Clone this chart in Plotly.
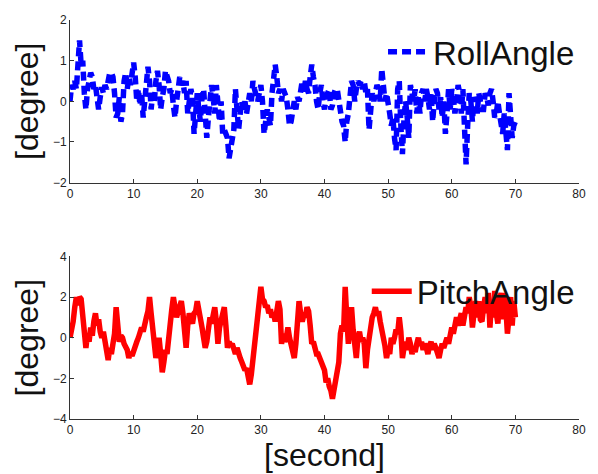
import numpy as np
import plotly.graph_objects as go
from plotly.subplots import make_subplots

# sampling step (seconds) for the hand-read series
dt = 0.25

roll_angle = [
    0.0, 0.4, 0.3, 0.5,
    0.3, 1.2, 1.5, 0.9,
    1.0, 0.2, -0.2, 0.3,
    0.5, 0.7, 0.6, 0.3,
    0.4, -0.1, -0.2, 0.1,
    0.35, 0.2, 0.4, 0.3,
    0.5, 0.7, 0.7, 0.6,
    0.2, -0.4, -0.3, 0.1,
    -0.5, -0.3, 0.5, 0.7,
    0.3, 0.6, 0.4, 0.7,
    0.95, 0.6, 0.0, 0.3,
    -0.1, 0.2, -0.4, 0.0,
    0.3, 0.85, 0.5, -0.2,
    0.2, 0.0, 0.5, 0.75,
    0.4, -0.2, 0.1, 0.3,
    0.75, 0.6, 0.5, 0.2,
    0.3, -0.1, -0.4, 0.0,
    0.3, 0.6, 0.4, 0.5,
    0.2, 0.5, -0.3, 0.0,
    0.3, 0.1, -0.8, -0.3,
    0.2, -0.2, -0.5, 0.1,
    0.3, -0.3, -0.9, -0.4,
    0.0, 0.4, 0.1, -0.3,
    0.4, -0.2, -0.5, 0.0,
    -0.8, -0.7, -0.8, -0.9,
    -1.4, -1.1, -0.8, -0.7,
    0.3, -0.2, -0.7, -0.3,
    0.0, -0.2, 0.0, -0.3,
    -0.1, 0.2, 0.0, 0.5,
    0.3, 0.1, 0.0, 0.2,
    0.4, 0.0, -0.8, -0.5,
    -0.2, -0.4, -0.6, 0.2,
    0.5, 0.9, 0.6, 0.2,
    0.3, 0.0, 0.3, 0.2,
    0.1, -0.2, -0.6, -0.5,
    -0.3, 0.0, -0.2, 0.1,
    0.0, 0.3, 0.5, 0.2,
    0.5, 0.3, 0.2, 0.6,
    0.9, 0.6, 0.4, 0.0,
    -0.2, 0.2, 0.4, 0.0,
    -0.2, 0.1, 0.2, 0.3,
    -0.2, -0.1, 0.2, 0.3,
    0.3, 0.0, -0.3, -0.5,
    -0.6, -1.0, -0.5, -0.3,
    0.1, 0.5, 0.4, 0.0,
    0.3, 0.5, 0.4, 0.5,
    0.3, 0.5, 0.2, 0.3,
    -0.7, -0.2, 0.2, 0.0,
    0.2, 0.4, 0.3, 0.0,
    0.8, 0.5, 0.0, 0.2,
    0.0, -0.3, -0.6, -0.4,
    -0.9, -1.2, 0.3, 0.5,
    -0.6, -1.3, -0.4, 0.0,
    -0.4, -0.9, 0.4, 0.2,
    0.0, 0.3, -0.3, 0.1,
    -0.3, 0.2, 0.3, 0.0,
    0.3, 0.1, -0.2, 0.2,
    -0.5, 0.0, 0.3, 0.2,
    -0.2, 0.1, -0.4, 0.0,
    -0.8, -0.3, 0.3, -0.2,
    0.3, 0.1, -0.3, 0.0,
    0.4, 0.2, -0.3, 0.3,
    -0.5, -1.55, -0.6, 0.2,
    0.0, -0.5, 0.1, 0.0,
    -0.3, 0.2, 0.0, -0.2,
    -0.2, 0.2, 0.1, -0.1,
    0.2, 0.3, 0.0, -0.4,
    -0.3, 0.0, -0.3, -0.6,
    -0.8, -0.3, -0.9, -1.2,
    0.2, -0.3, -0.9, -0.6,
    -0.5,
]

pitch_angle = [
    0.0, 0.3, 0.8, 1.5,
    2.0, 1.6, 2.0, 1.9,
    1.2, 0.5, -0.5, 0.2,
    -0.2, 0.5, 0.1, 0.8,
    1.2, 0.6, 0.9, 0.3,
    0.0, 0.3, -0.2, -0.3,
    -1.1, -0.5, -0.8, -0.3,
    0.2, 1.5, 0.5, -0.2,
    0.1, 0.0, -0.3, -0.5,
    -0.6, -1.0, -0.7, -0.9,
    -0.6, -0.4, -0.2, 0.0,
    0.2, 0.5, 0.3, 0.8,
    1.0, 1.3, 2.0, 1.2,
    0.5, -0.3, -1.0, -0.4,
    0.0, -0.8, -1.7, -1.2,
    -0.6, -0.8, 0.2, 1.0,
    1.4, 2.0, 1.5, 1.0,
    1.3, 1.6, 1.8, 1.2,
    0.4, -0.5, 0.6, 1.2,
    0.9, 0.7, 1.2, 1.3,
    1.8, 1.2, 0.8, 0.5,
    0.0, -0.5, -0.2, 0.4,
    1.0, 0.7, 1.2, 1.5,
    0.8, -0.3, 0.5, 0.9,
    1.2, 1.5, 0.6, -0.5,
    -0.2, -0.4, -0.3, -0.6,
    -0.8, -0.5, -0.9, -1.0,
    -1.2, -1.4, -1.6, -1.5,
    -1.9, -2.3, -1.8, -1.0,
    -0.3, 0.3, 1.0, 1.8,
    2.5, 1.9, 1.8, 1.5,
    1.6, 1.2, 1.4, 1.0,
    1.2, 0.8, 1.5, 1.8,
    1.4, -0.3, 0.2, -0.2,
    0.0, 0.5, 0.0, -0.4,
    -0.7, -1.0, -0.3, 0.8,
    1.8, 1.2, 0.8, 1.1,
    1.0, 1.5, 1.3, 0.6,
    -0.3, -0.2, -0.5, -0.8,
    -0.8, -1.0, -1.2, -1.5,
    -1.6, -2.2, -2.0, -2.4,
    -2.6, -3.0, -2.6, -2.3,
    -1.8, -1.2, 0.2, 0.6,
    0.3, 2.5, 1.0, -0.3,
    0.5, 1.5, 0.4, -0.2,
    -1.0, 0.0, 0.3, -0.2,
    0.0, -0.3, -1.5, -0.6,
    0.0, 0.5, 1.0, 1.2,
    1.5, 1.1, 1.3, 0.8,
    0.5, 0.0, -0.4, -1.0,
    -0.6, -0.8, 0.0, -0.3,
    0.0, 0.4, 0.2, 1.0,
    0.3, -1.0, -0.5, -0.2,
    -0.6, 0.0, -0.3, -0.8,
    -0.5, -0.7, -0.3, 0.0,
    -0.4, -0.2, -0.6, -0.3,
    -0.5, -0.8, -0.4, -0.2,
    -0.6, -0.3, -0.5, -0.7,
    -1.0, -0.6, -0.3, -0.5,
    -0.2, 0.0, -0.3, 0.3,
    0.5, 0.2, 0.8, 1.0,
    0.6, 0.9, 1.2, 0.6,
    1.0, 1.5, 1.2, 2.0,
    1.5, 0.5, 1.2, 1.8,
    1.0, 1.8, 0.9, 0.8,
    1.5, 2.0, 1.2, 2.2,
    0.5, 1.8, 1.0, 2.3,
    1.2, 0.7, 1.8, 2.2,
    0.9, 2.2, 1.5, 0.2,
    1.0, 2.0, 0.6, 1.8,
    1.0,
]

x_ticks = [0, 10, 20, 30, 40, 50, 60, 70, 80]
roll_ticks = [-2, -1, 0, 1, 2]
pitch_ticks = [-4, -2, 0, 2, 4]

t_roll = np.arange(len(roll_angle)) * dt
t_pitch = np.arange(len(pitch_angle)) * dt

FONT = "Liberation Sans, Arial, Helvetica"

fig = make_subplots(rows=2, cols=1, vertical_spacing=0.185)

fig.add_trace(go.Scatter(x=t_roll, y=roll_angle, mode="lines", name="RollAngle",
                         line=dict(color="#0000ff", width=5.5, dash="9px,5px"),
                         legend="legend", showlegend=True), row=1, col=1)
fig.add_trace(go.Scatter(x=t_pitch, y=pitch_angle, mode="lines", name="PitchAngle",
                         line=dict(color="#ff0000", width=5.5),
                         legend="legend2", showlegend=True), row=2, col=1)

axis_common = dict(showline=True, linecolor="#333333", linewidth=1, ticks="inside",
                   ticklen=4, tickcolor="#333333", showgrid=False, zeroline=False,
                   tickfont=dict(family=FONT, size=12, color="#222222"))

title_font = dict(family=FONT, size=32, color="#111111")

fig.update_xaxes(range=[0, 80], tickvals=x_ticks, **axis_common)
fig.update_yaxes(**axis_common)
fig.update_yaxes(range=[-2, 2], tickvals=roll_ticks, row=1, col=1,
                 title=dict(text="[degree]", standoff=4, font=title_font))
fig.update_yaxes(range=[-4, 4], tickvals=pitch_ticks, row=2, col=1,
                 title=dict(text="[degree]", standoff=4, font=title_font))
fig.update_xaxes(row=2, col=1,
                 title=dict(text="[second]", standoff=2, font=title_font))

legend_font = dict(family=FONT, size=33, color="#111111")
fig.update_layout(
    width=598, height=474,
    showlegend=True,
    margin=dict(l=70, r=12, t=20, b=54),
    paper_bgcolor="white", plot_bgcolor="white",
    legend=dict(x=0.615, y=0.92, xanchor="left", yanchor="middle", font=legend_font,
                bgcolor="rgba(0,0,0,0)", itemwidth=40),
    legend2=dict(x=0.583, y=0.32, xanchor="left", yanchor="middle", font=legend_font,
                 bgcolor="rgba(0,0,0,0)", itemwidth=40),
)

fig.write_html("out.html")
